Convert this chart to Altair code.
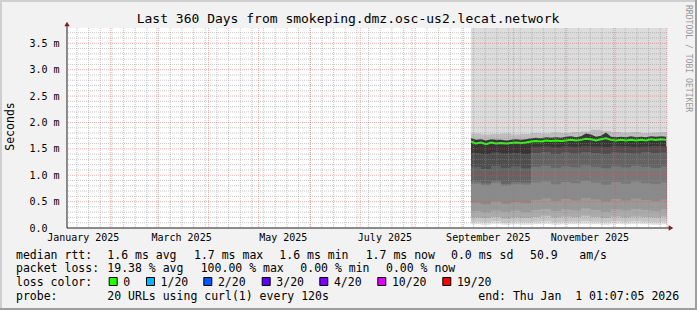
import altair as alt
import pandas as pd

FONT = "DejaVu Sans Mono"
PL, PT, PR, PB = 67, 28, 30, 82
W, H = 600, 200
YMAX = 3.79


def ms(ts):
    return int(pd.Timestamp(ts).timestamp() * 1000)


X_START = ms("2025-01-06T01:07:05Z")
X_END = ms("2026-01-01T01:07:05Z")

# ---------------- data ----------------
# median rtt (ms), one value every 3 days starting 2025-09-05
median_times = [ms(t) for t in pd.date_range("2025-09-05 11:00", periods=40, freq="3D", tz="UTC")]
median_rtt = [1.64, 1.60, 1.62, 1.59, 1.62, 1.60, 1.61, 1.60, 1.61, 1.62, 1.61, 1.62,
              1.64, 1.65, 1.64, 1.66, 1.65, 1.66, 1.65, 1.66, 1.67, 1.66, 1.67,
              1.69, 1.68, 1.66, 1.68, 1.70,
              1.67, 1.66, 1.67, 1.66, 1.67, 1.66, 1.67, 1.66, 1.68, 1.67, 1.68, 1.67]
smoke_upper_dark = [1.70, 1.67, 1.68, 1.66, 1.68, 1.67, 1.67, 1.66, 1.67, 1.68, 1.67, 1.68,
                    1.70, 1.71, 1.70, 1.72, 1.71, 1.72, 1.71, 1.73, 1.74, 1.72, 1.74,
                    1.79, 1.77, 1.73, 1.75, 1.81,
                    1.73, 1.72, 1.73, 1.72, 1.74, 1.72, 1.73, 1.72, 1.74, 1.73, 1.74, 1.73]

# smoke bands, one value every 6 days starting 2025-09-05 (+ end point)
band_times = [ms(t) for t in pd.date_range("2025-09-05 11:00", periods=20, freq="6D", tz="UTC")] + [ms("2025-12-31T23:00:00Z")]
smoke_top = [3.79] * 21
smoke_upper_light = [1.79, 1.77, 1.78, 1.79, 1.77, 1.78, 1.80, 1.79, 1.81, 1.80, 1.82, 1.83, 1.86, 1.84, 1.82, 1.81, 1.82, 1.80, 1.81, 1.82, 1.82]
smoke_b1 = [1.42, 1.40, 1.43, 1.41, 1.42, 1.40, 1.54, 1.55, 1.53, 1.55, 1.54, 1.56, 1.55, 1.54, 1.56, 1.55, 1.54, 1.55, 1.56, 1.55, 1.55]
smoke_b2 = [1.16, 1.12, 1.18, 1.14, 1.17, 1.13, 1.42, 1.44, 1.40, 1.43, 1.41, 1.44, 1.42, 1.40, 1.43, 1.42, 1.41, 1.44, 1.42, 1.43, 1.43]
smoke_b3 = [0.88, 0.85, 0.89, 0.84, 0.87, 0.86, 1.16, 1.18, 1.14, 1.17, 1.15, 1.19, 1.16, 1.13, 1.17, 1.15, 1.18, 1.16, 1.14, 1.17, 1.17]
smoke_b4 = [0.84, 0.81, 0.85, 0.80, 0.83, 0.82, 0.86, 0.88, 0.83, 0.87, 0.85, 0.89, 0.86, 0.82, 0.87, 0.84, 0.88, 0.85, 0.83, 0.86, 0.86]
smoke_b5 = [0.48, 0.45, 0.50, 0.46, 0.49, 0.47, 0.53, 0.56, 0.51, 0.55, 0.52, 0.57, 0.54, 0.50, 0.55, 0.52, 0.56, 0.53, 0.51, 0.54, 0.54]
smoke_b6 = [0.32, 0.30, 0.33, 0.31, 0.33, 0.30, 0.34, 0.36, 0.32, 0.35, 0.33, 0.37, 0.34, 0.31, 0.35, 0.33, 0.36, 0.34, 0.32, 0.35, 0.35]
smoke_b7 = [0.20, 0.19, 0.21, 0.18, 0.20, 0.19, 0.21, 0.23, 0.20, 0.22, 0.21, 0.23, 0.21, 0.19, 0.22, 0.20, 0.22, 0.21, 0.20, 0.22, 0.22]
smoke_b8 = [0.12, 0.11, 0.13, 0.10, 0.12, 0.11, 0.12, 0.13, 0.11, 0.12, 0.12, 0.13, 0.12, 0.11, 0.13, 0.12, 0.13, 0.12, 0.11, 0.12, 0.12]
smoke_b9 = [0.07, 0.06, 0.08, 0.06, 0.07, 0.06, 0.07, 0.08, 0.06, 0.07, 0.07, 0.08, 0.07, 0.06, 0.08, 0.07, 0.08, 0.07, 0.06, 0.07, 0.07]

# axis labels / grid
x_label_times = [ms(f"2025-{m:02d}-15T12:00:00Z") for m in (1, 3, 5, 7, 9, 11)]
y_label_values = [0, 0.5, 1.0, 1.5, 2.0, 2.5, 3.0, 3.5]
grid_months = [ms(t) for t in pd.date_range("2025-02-01", "2026-01-01", freq="MS", tz="UTC")]
grid_weeks = [ms(t) for t in pd.date_range("2025-01-12", "2025-12-31", freq="7D", tz="UTC")]
grid_y_minor = [round(k * 0.1, 1) for k in range(1, 38) if k % 5]
grid_y_major = [0.5, 1.0, 1.5, 2.0, 2.5, 3.0, 3.5]

loss_labels = ["0", "1/20", "2/20", "3/20", "4/20", "10/20", "19/20"]
loss_colors = ["#26ff00", "#00b8ff", "#0059ff", "#5e00ff", "#7e00ff", "#dd00ff", "#ff0000"]

title_text = "Last 360 Days from smokeping.dmz.osc-us2.lecat.network"

# ---------------- chart ----------------
xscale = alt.Scale(type="utc", domain=[X_START, X_END], nice=False)
yscale = alt.Scale(domain=[0, YMAX], nice=False, zero=False)

x_axis = alt.Axis(values=x_label_times, labelExpr="utcFormat(datum.value, '%B %Y')",
                  grid=False, ticks=False, domain=False, labelPadding=4, labelBaseline="top",
                  labelFont=FONT, labelFontSize=10, labelColor="black", labelFlush=False,
                  labelOverlap=False, title=None)
y_axis = alt.Axis(values=y_label_values,
                  labelExpr="datum.value == 0 ? '0.0' : format(datum.value, '.1f') + ' m'",
                  grid=False, ticks=False, domain=False, labelAlign="left", labelPadding=38,
                  labelBaseline="middle", labelFont=FONT, labelFontSize=10, labelColor="black",
                  labelFlush=False, labelOverlap=False, title=None)


def X(field="t"):
    return alt.X(f"{field}:T", scale=xscale, axis=x_axis)


def Y(field):
    return alt.Y(f"{field}:Q", scale=yscale, axis=y_axis)


band_df = pd.DataFrame({
    "t": band_times, "top": smoke_top, "u1": smoke_upper_light,
    "b1": smoke_b1, "b2": smoke_b2, "b3": smoke_b3, "b4": smoke_b4,
    "b5": smoke_b5, "b6": smoke_b6, "b7": smoke_b7, "b8": smoke_b8, "b9": smoke_b9,
})
med_df = pd.DataFrame({"t": median_times, "median": median_rtt, "u2": smoke_upper_dark})

layers = []


def area(df, col, color, interp):
    return alt.Chart(df).mark_area(color=color, opacity=1, interpolate=interp).encode(
        x=X(), y=Y(col))


layers.append(area(band_df, "top", "#dcdcdc", "step-after"))
layers.append(area(band_df, "u1", "#bdbdbd", "step-after"))
layers.append(area(med_df, "u2", "#363636", "linear"))
for col, colr in [("b1", "#4e4e4e"), ("b2", "#636363"), ("b3", "#787878"), ("b4", "#8a8a8a"),
                  ("b5", "#9a9a9a"), ("b6", "#ababab"), ("b7", "#c6c6c6"), ("b8", "#e2e2e2"),
                  ("b9", "#ffffff")]:
    layers.append(area(band_df, col, colr, "step-after"))

layers.append(alt.Chart(med_df).mark_line(color="#26ff00", strokeWidth=2).encode(
    x=X(), y=Y("median")))

# grid lines (drawn on top, like rrdtool)
GRID = "#8f8f8f"
MGRID = "#de4f4f"
layers.append(alt.Chart(pd.DataFrame({"t": grid_weeks})).mark_rule(
    color=GRID, opacity=0.5, strokeDash=[1, 1], strokeWidth=1).encode(x=X()))
layers.append(alt.Chart(pd.DataFrame({"v": grid_y_minor})).mark_rule(
    color=GRID, opacity=0.5, strokeDash=[1, 1], strokeWidth=1).encode(y=Y("v")))
layers.append(alt.Chart(pd.DataFrame({"t": grid_months})).mark_rule(
    color=MGRID, opacity=0.45, strokeDash=[1, 1], strokeWidth=1).encode(x=X()))
layers.append(alt.Chart(pd.DataFrame({"v": grid_y_major})).mark_rule(
    color=MGRID, opacity=0.45, strokeDash=[1, 1], strokeWidth=1).encode(y=Y("v")))

# axis lines and arrows
layers.append(alt.Chart().mark_rule(color="#1f1f1f", strokeWidth=1).encode(
    x=alt.value(0), y=alt.value(-4), y2=alt.value(H)))
layers.append(alt.Chart().mark_rule(color="#1f1f1f", strokeWidth=1).encode(
    x=alt.value(0), x2=alt.value(W + 3), y=alt.value(H)))
layers.append(alt.Chart().mark_point(shape="triangle-up", filled=True, size=28, color="#801f1f", opacity=1).encode(
    x=alt.value(0), y=alt.value(-4)))
layers.append(alt.Chart().mark_point(shape="triangle-right", filled=True, size=28, color="#801f1f", opacity=1).encode(
    x=alt.value(W + 4), y=alt.value(H)))

# frame (3d shade)
layers.append(alt.Chart().mark_rule(color="#cfcfcf", strokeWidth=2).encode(
    x=alt.value(-PL), x2=alt.value(W + PR), y=alt.value(-PT + 1)))
layers.append(alt.Chart().mark_rule(color="#cfcfcf", strokeWidth=2).encode(
    x=alt.value(-PL + 1), y=alt.value(-PT), y2=alt.value(H + PB)))
layers.append(alt.Chart().mark_rule(color="#9e9e9e", strokeWidth=2).encode(
    x=alt.value(-PL), x2=alt.value(W + PR), y=alt.value(H + PB - 1)))
layers.append(alt.Chart().mark_rule(color="#9e9e9e", strokeWidth=2).encode(
    x=alt.value(W + PR - 1), y=alt.value(-PT), y2=alt.value(H + PB)))


def txt(s, x, y, size=11.5, color="black", angle=0, align="left", baseline="alphabetic"):
    return alt.Chart(pd.DataFrame({"s": [s]})).mark_text(
        font=FONT, fontSize=size, color=color, angle=angle, align=align, baseline=baseline
    ).encode(x=alt.value(x - PL), y=alt.value(y - PT), text="s:N")


layers.append(txt(title_text, 348, 22.5, size=13, align="center"))
layers.append(txt("Seconds", 11, 126.5, size=11.5, angle=270, align="center", baseline="middle"))
layers.append(txt("RRDTOOL / TOBI OETIKER", 688, 5, size=8.1, color="#999999", angle=90, align="left", baseline="middle"))

legend_lines = [
    (258.5, [(16, "median rtt:"), (107.3, "1.6 ms avg"), (194, "1.7 ms max"), (279.3, "1.6 ms min"),
             (365.7, "1.7 ms now"), (451, "0.0 ms sd"), (530, "50.9"), (579.3, "am/s")]),
    (272.3, [(16, "packet loss:"), (107.3, "19.38 % avg"), (200.7, "100.00 % max"),
             (300.3, "0.00 % min"), (386, "0.00 % now")]),
    (286, [(16, "loss color:")]),
    (299.7, [(16, "probe:"), (107.3, "20 URLs using curl(1) every 120s"),
             (478.3, "end: Thu Jan\u00a0\u00a01 01:07:05 2026")]),
]
for yb, items in legend_lines:
    for xx, s in items:
        layers.append(txt(s, xx, yb))

box_x = [108.7, 146, 203.3, 261.7, 319.3, 377.3, 442.3]
for bx, lab, colr in zip(box_x, loss_labels, loss_colors):
    layers.append(alt.Chart().mark_rect(fill=colr, stroke="black", strokeWidth=1, opacity=1).encode(
        x=alt.value(bx - PL + 0.5), x2=alt.value(bx - PL + 8.5), y=alt.value(277.5 - PT), y2=alt.value(285.5 - PT)))
    layers.append(txt(lab, bx + 14.6, 286))

chart = alt.layer(*layers).properties(
    width=W, height=H, autosize="none",
    padding={"left": PL, "top": PT, "right": PR, "bottom": PB},
).configure(background="#f2f2f2").configure_view(fill="white", stroke=None)

chart.save("out.html", embed_options={"renderer": "svg", "actions": False})
